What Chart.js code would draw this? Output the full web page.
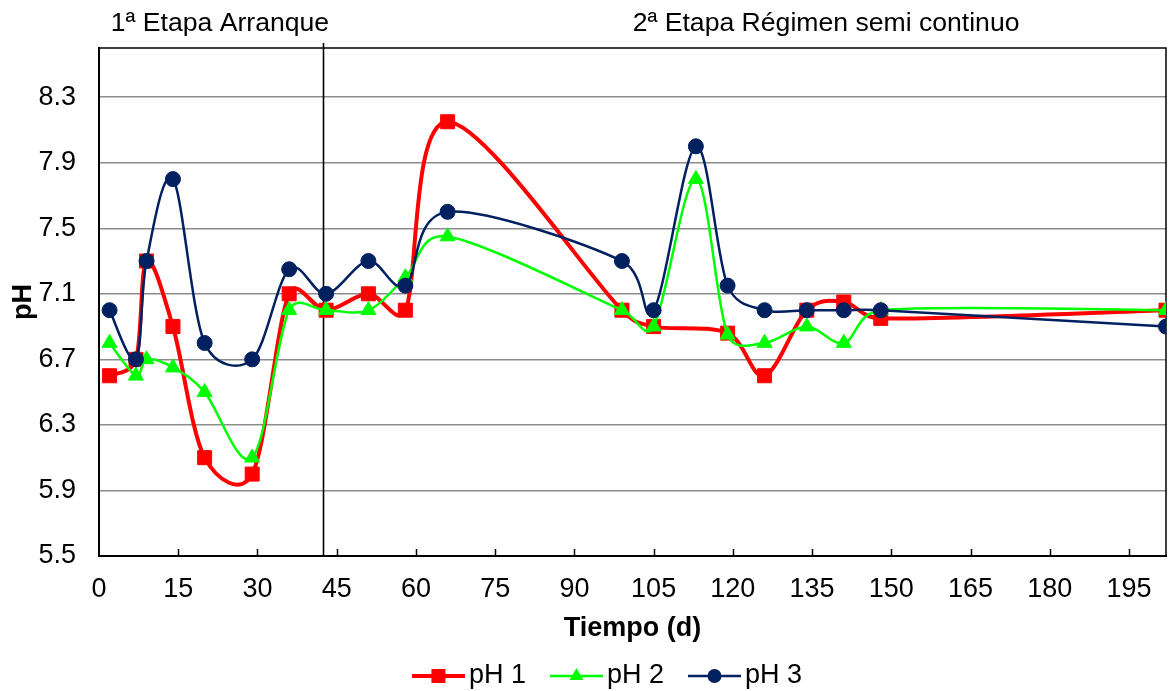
<!DOCTYPE html>
<html>
<head>
<meta charset="utf-8">
<script src="https://cdn.jsdelivr.net/npm/chart.js@4.4.1/dist/chart.umd.min.js"></script>
<style>
html,body{margin:0;padding:0;background:#ffffff;}
#wrap{width:1171px;height:691px;position:relative;}
</style>
</head>
<body>
<div id="wrap"><canvas id="c" width="1171" height="691"></canvas></div>
<script>
// ---- data ----
const days = [2, 7, 9, 14, 20, 29, 36, 43, 51, 58, 66, 99, 105, 113, 119, 126, 134, 141, 148, 202];
const ph1  = [6.6, 6.7, 7.3, 6.9, 6.1, 6.0, 7.1, 7.0, 7.1, 7.0, 8.15, 7.0, 6.9, null, 6.86, 6.6, 7.0, 7.05, 6.95, 7.0];
const ph2  = [6.8, 6.6, 6.7, 6.65, 6.5, 6.1, 7.0, 7.0, 7.0, 7.2, 7.45, 7.0, 6.9, 7.8, 6.85, 6.8, 6.9, 6.8, 7.0, 7.0];
const ph3  = [7.0, 6.7, 7.3, 7.8, 6.8, 6.7, 7.25, 7.1, 7.3, 7.15, 7.6, 7.3, 7.0, 8.0, 7.15, 7.0, 7.0, 7.0, 7.0, 6.9];
const seriesLabels = ['pH 1', 'pH 2', 'pH 3'];
const xTicks = [0, 15, 30, 45, 60, 75, 90, 105, 120, 135, 150, 165, 180, 195];
const yTicks = [5.5, 5.9, 6.3, 6.7, 7.1, 7.5, 7.9, 8.3];
const xRange = [0, 202];
const yRange = [5.5, 8.6];
const stageLabels = ['1ª Etapa Arranque', '2ª Etapa Régimen semi continuo'];
const stageBoundaryDay = 42.5;
const xTitle = 'Tiempo (d)';
const yTitle = 'pH';

// ---- styles ----
const FONT = "'Liberation Sans', Arial, Helvetica, sans-serif";
const styles = [
  {color: '#ff0000', width: 4,   marker: 'rect',     size: 14},
  {color: '#00ff00', width: 2.5, marker: 'triangle', size: 15},
  {color: '#002060', width: 2.5, marker: 'circle',   size: 15}
];
const radiusFor = s => s.marker === 'rect' ? s.size / Math.SQRT2 : (s.marker === 'triangle' ? s.size / Math.sqrt(3) : s.size / 2);

function toPoints(vals) { return days.map((d, i) => ({x: d, y: vals[i]})); }
const seriesValues = [ph1, ph2, ph3];

const datasets = seriesValues.map((vals, i) => ({
  label: seriesLabels[i],
  data: toPoints(vals),
  borderColor: styles[i].color,
  backgroundColor: styles[i].color,
  borderWidth: styles[i].width,
  pointStyle: styles[i].marker,
  pointRadius: radiusFor(styles[i]),
  pointBackgroundColor: styles[i].color,
  pointBorderColor: styles[i].color,
  pointBorderWidth: 1,
  tension: 0.3,
  spanGaps: true,
  order: 3 - i
}));

function drawMarker(ctx, type, x, y, size, color) {
  ctx.save();
  ctx.fillStyle = color;
  ctx.beginPath();
  if (type === 'rect') {
    ctx.rect(x - size / 2, y - size / 2, size, size);
  } else if (type === 'triangle') {
    const r = size / Math.sqrt(3);
    for (let k = 0; k < 3; k++) {
      const a = -Math.PI / 2 + k * 2 * Math.PI / 3;
      const px = x + r * Math.cos(a), py = y + r * Math.sin(a);
      k === 0 ? ctx.moveTo(px, py) : ctx.lineTo(px, py);
    }
    ctx.closePath();
  } else {
    ctx.arc(x, y, size / 2, 0, Math.PI * 2);
  }
  ctx.fill();
  ctx.restore();
}

// Excel-like smoothing (Catmull-Rom style control points, arms capped by segment length)
const excelSmooth = {
  id: 'excelSmooth',
  beforeDatasetDraw(chart, args) {
    const meta = args.meta;
    const line = meta.dataset;
    const pts = meta.data.filter(p => !p.skip);
    const n = pts.length;
    const dist = (a, b) => Math.hypot(b.x - a.x, b.y - a.y);
    for (let i = 0; i < n; i++) {
      const p = pts[i];
      const prev = pts[Math.max(i - 1, 0)];
      const next = pts[Math.min(i + 1, n - 1)];
      let tx = (next.x - prev.x) / 6, ty = (next.y - prev.y) / 6;
      const arm = Math.hypot(tx, ty);
      const dPrev = dist(prev, p), dNext = dist(p, next);
      let sBack = 1, sFwd = 1;
      if (arm > 0) {
        if (arm > 0.5 * dPrev) sBack = 0.5 * dPrev / arm;
        if (arm > 0.5 * dNext) sFwd = 0.5 * dNext / arm;
      }
      p.cp1x = p.x - tx * sBack; p.cp1y = p.y - ty * sBack;
      p.cp2x = p.x + tx * sFwd;  p.cp2y = p.y + ty * sFwd;
    }
    line._pointsUpdated = true;
    delete line._path;
  }
};

const decorations = {
  id: 'decorations',
  beforeDatasetsDraw(chart) {
    const {ctx, chartArea: a, scales: {x}} = chart;
    ctx.save();
    // frame (top and right)
    ctx.strokeStyle = '#000';
    ctx.lineWidth = 1.5;
    ctx.beginPath();
    ctx.moveTo(a.left, a.top); ctx.lineTo(a.right, a.top); ctx.lineTo(a.right, a.bottom);
    ctx.stroke();
    // stage boundary
    const bx = x.getPixelForValue(stageBoundaryDay);
    ctx.lineWidth = 1.6;
    ctx.beginPath();
    ctx.moveTo(bx, a.top - 5); ctx.lineTo(bx, a.bottom);
    ctx.stroke();
    // inside tick marks on x axis
    ctx.lineWidth = 1.5;
    xTicks.forEach(v => {
      if (v === xRange[0]) return;
      const px = Math.round(x.getPixelForValue(v)) + 0.5;
      ctx.beginPath();
      ctx.moveTo(px, a.bottom); ctx.lineTo(px, a.bottom - 7);
      ctx.stroke();
    });
    ctx.restore();
  },
  afterDraw(chart) {
    const {ctx, scales: {x}} = chart;
    ctx.save();
    // stage labels
    ctx.fillStyle = '#000';
    ctx.font = '26.6px ' + FONT;
    ctx.textAlign = 'center';
    ctx.textBaseline = 'alphabetic';
    ctx.fillText(stageLabels[0], x.getPixelForValue(22.9), 31);
    ctx.fillText(stageLabels[1], x.getPixelForValue(137.65), 31);
    // legend
    ctx.font = '27px ' + FONT;
    ctx.textAlign = 'left';
    ctx.textBaseline = 'middle';
    const lineLen = 53, gap1 = 4, gap2 = 24;
    const widths = seriesLabels.map(t => lineLen + gap1 + ctx.measureText(t).width);
    const total = widths.reduce((s, w) => s + w, 0) + gap2 * (widths.length - 1);
    let cx = 607 - total / 2;
    const cy = 676;
    seriesLabels.forEach((t, i) => {
      const s = styles[i];
      ctx.strokeStyle = s.color;
      ctx.lineWidth = s.width;
      ctx.beginPath();
      ctx.moveTo(cx, cy); ctx.lineTo(cx + lineLen, cy);
      ctx.stroke();
      drawMarker(ctx, s.marker, cx + lineLen / 2, cy, 14, s.color);
      ctx.fillStyle = '#000';
      ctx.fillText(t, cx + lineLen + gap1, cy);
      cx += widths[i] + gap2;
    });
    ctx.restore();
  }
};

new Chart(document.getElementById('c'), {
  type: 'line',
  data: {datasets},
  plugins: [excelSmooth, decorations],
  options: {
    responsive: false,
    devicePixelRatio: 1,
    animation: false,
    events: [],
    layout: {autoPadding: false, padding: {left: 0, right: 5, top: 48, bottom: 35}},
    plugins: {legend: {display: false}, tooltip: {enabled: false}},
    scales: {
      x: {
        type: 'linear',
        min: xRange[0], max: xRange[1],
        afterBuildTicks: s => { s.ticks = xTicks.map(v => ({value: v})); },
        afterFit: s => { s.height = 100; s.paddingLeft = 0; s.paddingRight = 0; },
        grid: {display: false, drawTicks: false},
        border: {display: true, color: '#000', width: 2},
        ticks: {color: '#000', font: {family: FONT, size: 27}, padding: 17, maxRotation: 0, autoSkip: false},
        title: {display: true, text: xTitle, color: '#000', font: {family: FONT, size: 27, weight: 'bold'}, padding: {top: 0, bottom: 11}}
      },
      y: {
        type: 'linear',
        min: yRange[0], max: yRange[1],
        afterBuildTicks: s => { s.ticks = yTicks.map(v => ({value: v})); },
        afterFit: s => { s.width = 99; s.paddingTop = 0; s.paddingBottom = 0; },
        grid: {color: '#8c8c8c', lineWidth: 1.5, drawTicks: false},
        border: {display: true, color: '#000', width: 2},
        ticks: {color: '#000', font: {family: FONT, size: 27}, padding: 23, callback: v => v.toFixed(1)},
        title: {display: true, text: yTitle, color: '#000', font: {family: FONT, size: 27, weight: 'bold'}, padding: {top: 7, bottom: 0}}
      }
    }
  }
});
</script>
</body>
</html>
